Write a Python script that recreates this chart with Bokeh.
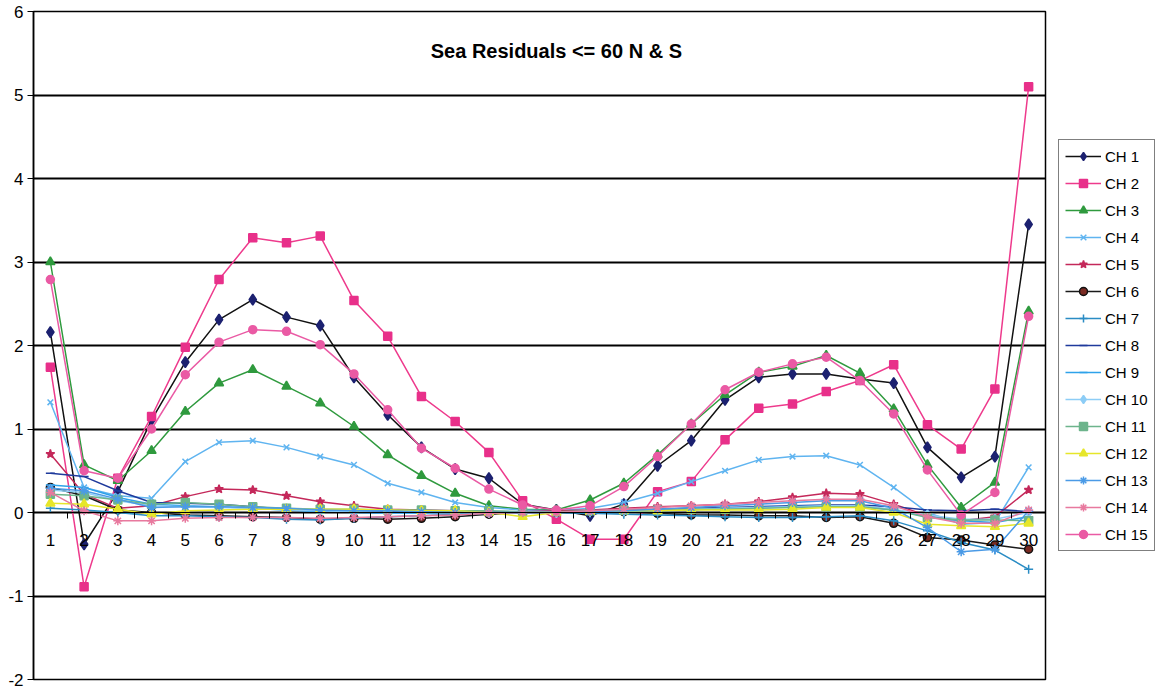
from bokeh.plotting import figure
from bokeh.models import FixedTicker, Legend, LegendItem, Label, Range1d
from bokeh.embed import file_html
from bokeh.resources import INLINE

channel = list(range(1, 31))
y_ticks = [-2, -1, 0, 1, 2, 3, 4, 5, 6]

ch1 = [2.16, -0.38, 0.25, 1.11, 1.80, 2.31, 2.55, 2.34, 2.24, 1.62, 1.17, 0.78, 0.52, 0.41, 0.10,
       0.03, -0.04, 0.10, 0.56, 0.86, 1.35, 1.62, 1.66, 1.66, 1.60, 1.55, 0.78, 0.42, 0.67, 3.45]
ch2 = [1.74, -0.89, 0.41, 1.15, 1.98, 2.79, 3.29, 3.23, 3.31, 2.54, 2.11, 1.39, 1.09, 0.72, 0.14,
       -0.08, -0.32, -0.32, 0.25, 0.37, 0.87, 1.25, 1.30, 1.45, 1.58, 1.77, 1.05, 0.76, 1.48, 5.10]
ch3 = [3.00, 0.57, 0.38, 0.74, 1.21, 1.55, 1.71, 1.51, 1.31, 1.03, 0.69, 0.44, 0.23, 0.08, 0.04,
       0.03, 0.15, 0.35, 0.69, 1.06, 1.41, 1.68, 1.75, 1.88, 1.67, 1.24, 0.57, 0.06, 0.36, 2.41]
ch4 = [1.32, 0.30, 0.20, 0.17, 0.61, 0.84, 0.86, 0.78, 0.67, 0.57, 0.35, 0.24, 0.12, 0.06, 0.03,
       0.02, 0.05, 0.12, 0.23, 0.37, 0.50, 0.63, 0.67, 0.68, 0.57, 0.30, 0.00, -0.14, -0.12, 0.54]
ch5 = [0.70, 0.22, 0.05, 0.08, 0.19, 0.28, 0.27, 0.20, 0.13, 0.08, 0.04, 0.03, 0.02, 0.01, 0.01,
       0.02, 0.03, 0.05, 0.07, 0.08, 0.10, 0.13, 0.18, 0.23, 0.22, 0.10, -0.04, -0.10, -0.05, 0.27]
ch6 = [0.30, 0.20, 0.03, 0.00, -0.03, -0.04, -0.05, -0.06, -0.08, -0.07, -0.08, -0.07, -0.05, -0.02, 0.00,
       0.00, 0.00, 0.01, -0.01, -0.03, -0.03, -0.04, -0.04, -0.06, -0.05, -0.13, -0.30, -0.33, -0.39, -0.44]
ch7 = [0.05, 0.03, 0.00, -0.04, -0.04, -0.05, -0.06, -0.08, -0.09, -0.07, -0.05, -0.04, -0.02, -0.01, 0.00,
       0.00, -0.01, -0.02, -0.03, -0.04, -0.05, -0.06, -0.06, -0.05, -0.04, -0.10, -0.22, -0.36, -0.45, -0.68]
ch8 = [0.47, 0.43, 0.26, 0.12, 0.11, 0.10, 0.07, 0.04, 0.02, 0.02, 0.01, 0.01, 0.01, 0.00, 0.00,
       0.00, 0.02, 0.03, 0.04, 0.05, 0.06, 0.07, 0.08, 0.09, 0.09, 0.07, 0.03, 0.02, 0.04, 0.01]
ch9 = [0.33, 0.30, 0.18, 0.10, 0.08, 0.07, 0.05, 0.03, 0.01, 0.00, -0.01, -0.01, 0.00, 0.00, 0.00,
       0.00, 0.00, 0.01, 0.02, 0.03, 0.05, 0.06, 0.07, 0.08, 0.07, 0.03, -0.05, -0.10, -0.12, -0.05]
ch10 = [0.27, 0.24, 0.14, 0.08, 0.07, 0.06, 0.05, 0.03, 0.02, 0.01, 0.00, 0.00, 0.00, 0.00, 0.00,
        0.00, 0.01, 0.02, 0.03, 0.04, 0.05, 0.06, 0.07, 0.08, 0.08, 0.04, -0.03, -0.08, -0.08, 0.00]
ch11 = [0.22, 0.20, 0.15, 0.10, 0.12, 0.10, 0.07, 0.05, 0.04, 0.04, 0.03, 0.03, 0.02, 0.02, 0.01,
        0.01, 0.02, 0.03, 0.03, 0.04, 0.04, 0.05, 0.06, 0.07, 0.07, 0.03, -0.06, -0.09, -0.09, -0.10]
ch12 = [0.11, 0.10, 0.04, -0.02, 0.02, 0.03, 0.04, 0.04, 0.04, 0.04, 0.03, 0.02, 0.02, 0.00, -0.05,
        0.00, 0.01, 0.02, 0.02, 0.03, 0.03, 0.03, 0.04, 0.06, 0.06, 0.00, -0.14, -0.16, -0.17, -0.13]
ch13 = [0.29, 0.26, 0.16, 0.06, 0.07, 0.07, 0.06, 0.05, 0.03, 0.02, 0.02, 0.01, 0.00, 0.00, 0.00,
        0.00, 0.01, 0.02, 0.04, 0.06, 0.08, 0.10, 0.12, 0.14, 0.14, 0.05, -0.18, -0.47, -0.44, 0.02]
ch14 = [0.24, 0.02, -0.10, -0.10, -0.07, -0.06, -0.06, -0.06, -0.07, -0.06, -0.05, -0.04, -0.03, -0.01, 0.00,
        0.00, 0.02, 0.04, 0.06, 0.08, 0.10, 0.12, 0.14, 0.16, 0.16, 0.08, -0.05, -0.13, -0.13, 0.03]
ch15 = [2.79, 0.50, 0.41, 1.00, 1.65, 2.04, 2.19, 2.17, 2.01, 1.66, 1.23, 0.77, 0.53, 0.28, 0.09,
        0.03, 0.08, 0.31, 0.67, 1.06, 1.47, 1.68, 1.78, 1.86, 1.58, 1.18, 0.51, -0.03, 0.24, 2.35]

names = ["CH 1", "CH 2", "CH 3", "CH 4", "CH 5", "CH 6", "CH 7", "CH 8",
         "CH 9", "CH 10", "CH 11", "CH 12", "CH 13", "CH 14", "CH 15"]
values = [ch1, ch2, ch3, ch4, ch5, ch6, ch7, ch8, ch9, ch10, ch11, ch12, ch13, ch14, ch15]

# (line colour, marker, marker fill, marker line, marker size)
styles = [
    ("#111111", "diamond", "#1c2170", "#1c2170", 11),
    ("#ee3a8c", "square", "#e8308a", "#e8308a", 8),
    ("#2f9a3e", "triangle", "#2f9a3e", "#2f9a3e", 9),
    ("#5fb4f0", "x", None, "#5fb4f0", 8),
    ("#c4285a", "star", "#c4285a", "#c4285a", 9),
    ("#1a1a1a", "circle", "#7a2a22", "#111111", 8),
    ("#2a8cc4", "cross", None, "#2a8cc4", 9),
    ("#1f3a9c", "dash", None, "#1f3a9c", 9),
    ("#2ea2ea", "dash", None, "#2ea2ea", 9),
    ("#8dcdf6", "diamond", "#8dcdf6", "#8dcdf6", 10),
    ("#6db48c", "square", "#6db48c", "#6db48c", 8),
    ("#e6e62a", "triangle", "#e6e62a", "#e6e62a", 9),
    ("#4a9ae6", "asterisk", None, "#4a9ae6", 9),
    ("#e8799e", "asterisk", None, "#e8799e", 9),
    ("#ea5aa4", "circle", "#ea5aa4", "#ea5aa4", 8),
]

FONT = "Liberation Sans"

p = figure(width=1160, height=698, frame_width=1012, frame_height=668,
           output_backend="svg", toolbar_location=None,
           x_range=Range1d(0.5, 30.5), y_range=Range1d(-2, 6),
           min_border_left=33, min_border_right=0, min_border_top=11, min_border_bottom=19)

p.background_fill_color = "white"
p.border_fill_color = "white"
p.outline_line_color = "black"
p.outline_line_width = 1.5

items = []
for name, vals, (lc, mk, fc, mlc, ms) in zip(names, values, styles):
    r1 = p.line(channel, vals, line_color=lc, line_width=1.5)
    r2 = p.scatter(channel, vals, marker=mk, size=ms,
                   fill_color=fc if fc else mlc, line_color=mlc, line_width=1.5)
    items.append(LegendItem(label=name, renderers=[r1, r2]))

# y axis
p.yaxis.ticker = FixedTicker(ticks=y_ticks)
p.yaxis.major_label_overrides = {-2: "-2", -1: "-1"}
p.yaxis.axis_line_color = "black"
p.yaxis.axis_line_width = 1.5
p.yaxis.major_tick_out = 6
p.yaxis.major_tick_in = 0
p.yaxis.minor_tick_line_color = None
p.yaxis.major_label_standoff = 4
p.yaxis.major_label_text_font = FONT
p.yaxis.major_label_text_font_size = "17px"
p.yaxis.major_label_text_color = "black"

# x axis sits on the zero line
p.xaxis.ticker = FixedTicker(ticks=channel, minor_ticks=[c - 0.5 for c in channel] + [30.5])
p.xaxis.fixed_location = 0
p.xaxis.axis_line_color = "black"
p.xaxis.axis_line_width = 1
p.xaxis.major_tick_line_color = None
p.xaxis.major_tick_out = 0
p.xaxis.major_tick_in = 0
p.xaxis.minor_tick_out = 6
p.xaxis.minor_tick_in = 0
p.xaxis.minor_tick_line_color = "black"
p.xaxis.major_label_standoff = 15
p.xaxis.major_label_text_font = FONT
p.xaxis.major_label_text_font_size = "17px"
p.xaxis.major_label_text_color = "black"

p.xgrid.grid_line_color = None
p.ygrid.ticker = FixedTicker(ticks=y_ticks)
p.ygrid.grid_line_color = "black"
p.ygrid.grid_line_width = 1.8
p.ygrid.grid_line_alpha = 1.0

title = Label(x=16, y=5.53, text="Sea Residuals <= 60 N & S", text_align="center",
              text_baseline="middle", text_font=FONT, text_font_style="bold",
              text_font_size="20px", text_color="black")
p.add_layout(title)

legend = Legend(items=items, location="left", orientation="vertical")
legend.label_text_font = FONT
legend.label_text_font_size = "15px"
legend.label_text_color = "black"
legend.glyph_width = 36
legend.glyph_height = 20
legend.label_height = 20
legend.spacing = 7
legend.padding = 6
legend.label_standoff = 4
legend.border_line_color = "black"
legend.border_line_width = 1.5
legend.background_fill_color = "white"
legend.background_fill_alpha = 1.0
legend.margin = 13
p.add_layout(legend, "right")

open("out.html", "w").write(file_html(p, INLINE))
